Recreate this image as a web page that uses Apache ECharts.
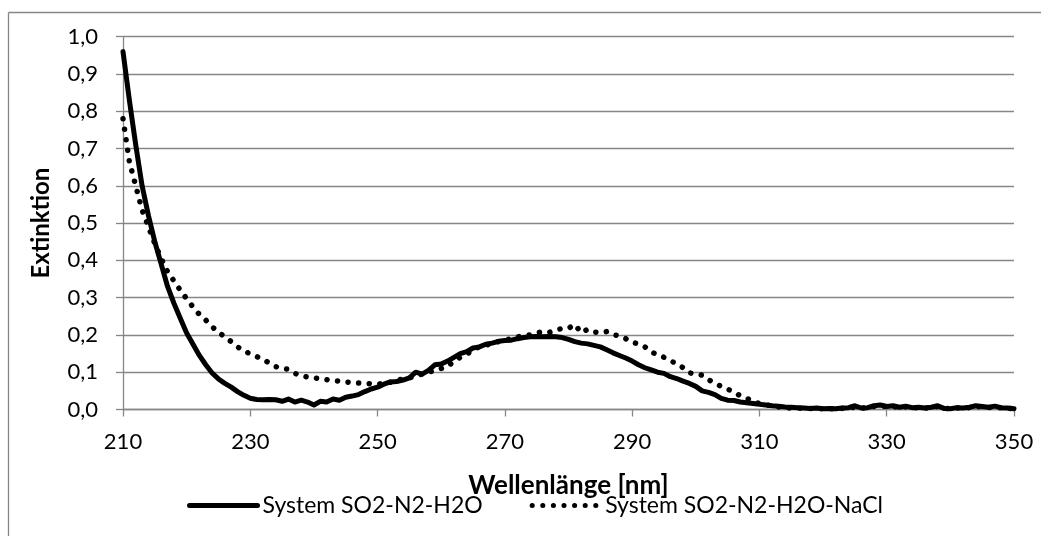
<!DOCTYPE html>
<html>
<head>
<meta charset="utf-8">
<script src="https://cdn.jsdelivr.net/npm/echarts@6/dist/echarts.min.js"></script>
<style>
html,body{margin:0;padding:0;background:#fff;}
#chart{width:1041px;height:536px;}
</style>
</head>
<body>
<div id="chart"></div>
<script>
// Wavelength categories 210..350 nm (1 nm step)
const wavelengths = [];
for (let w = 210; w <= 350; w++) wavelengths.push(String(w));

const xTickLabels = ['210','230','250','270','290','310','330','350'];
const yTickLabels = ['0,0','0,1','0,2','0,3','0,4','0,5','0,6','0,7','0,8','0,9','1,0'];

const seriesNames = ['System SO2-N2-H2O', 'System SO2-N2-H2O-NaCl'];

// System SO2-N2-H2O (solid)
const extSO2 = [
0.96,0.83,0.71,0.60,0.52,0.45,0.39,0.33,0.285,0.245,
0.205,0.175,0.145,0.12,0.098,0.082,0.07,0.06,0.048,0.038,
0.03,0.027,0.026,0.027,0.026,0.022,0.028,0.02,0.025,0.02,
0.012,0.022,0.02,0.028,0.025,0.033,0.036,0.04,0.048,0.055,
0.06,0.068,0.074,0.075,0.079,0.085,0.1,0.095,0.105,0.12,
0.122,0.13,0.14,0.15,0.155,0.165,0.168,0.175,0.178,0.183,
0.185,0.186,0.19,0.193,0.195,0.196,0.195,0.196,0.195,0.193,
0.188,0.182,0.178,0.176,0.172,0.168,0.16,0.152,0.145,0.138,
0.13,0.12,0.112,0.106,0.1,0.097,0.088,0.083,0.076,0.07,
0.062,0.05,0.046,0.04,0.03,0.025,0.024,0.02,0.018,0.016,
0.014,0.012,0.01,0.009,0.007,0.006,0.005,0.004,0.003,0.004,
0.002,0.003,0.002,0.004,0.005,0.01,0.004,0.005,0.01,0.012,
0.008,0.01,0.006,0.009,0.005,0.006,0.004,0.006,0.01,0.003,
0.002,0.005,0.004,0.006,0.01,0.008,0.006,0.009,0.005,0.004,
0.002
];

// System SO2-N2-H2O-NaCl (dotted)
const extSO2NaCl = [
0.78,0.665,0.60,0.535,0.49,0.445,0.405,0.37,0.345,0.32,
0.297,0.275,0.255,0.24,0.222,0.207,0.195,0.182,0.168,0.156,
0.15,0.142,0.134,0.125,0.115,0.11,0.108,0.097,0.09,0.087,
0.085,0.082,0.08,0.078,0.076,0.074,0.072,0.071,0.07,0.069,
0.068,0.07,0.073,0.078,0.082,0.085,0.09,0.095,0.1,0.105,
0.11,0.115,0.13,0.14,0.148,0.16,0.168,0.172,0.178,0.182,
0.186,0.19,0.195,0.198,0.2,0.205,0.209,0.207,0.212,0.218,
0.218,0.228,0.206,0.215,0.208,0.206,0.209,0.2,0.198,0.19,
0.18,0.176,0.168,0.155,0.146,0.14,0.13,0.124,0.112,0.098,
0.096,0.092,0.08,0.07,0.062,0.055,0.046,0.037,0.03,0.022,
0.016,0.012,0.01,0.007,0.005,0.004,0.004,0.003,0.003,0.003,
0.002,0.002,0.002,0.003,0.004,0.006,0.004,0.004,0.008,0.01,
0.007,0.008,0.005,0.007,0.004,0.005,0.004,0.005,0.008,0.003,
0.002,0.004,0.003,0.005,0.008,0.007,0.005,0.007,0.004,0.003,
0.002
];

const FONT = 'Lato, "Open Sans", sans-serif';
const GRAY = '#868686';

const chart = echarts.init(document.getElementById('chart'), null, {renderer: 'canvas'});
chart.setOption({
  animation: false,
  backgroundColor: '#fff',
  textStyle: {fontFamily: FONT},
  graphic: [
    {type: 'line', shape: {x1: 8.5, y1: 12.5, x2: 8.5, y2: 536}, style: {stroke: GRAY, lineWidth: 1.3}},
    {type: 'line', shape: {x1: 8.5, y1: 12.5, x2: 1041, y2: 12.5}, style: {stroke: GRAY, lineWidth: 1.3}}
  ],
  grid: {left: 123, right: 27, top: 36.7, bottom: 126.5, containLabel: false},
  legend: {
    left: 182, top: 489,
    itemWidth: 68, itemHeight: 14, itemGap: 47,
    itemStyle: {opacity: 0},
    lineStyle: {width: 5},
    textStyle: {fontFamily: FONT, fontSize: 23, color: '#000'},
    data: seriesNames
  },
  xAxis: {
    type: 'category',
    data: wavelengths,
    boundaryGap: false,
    name: 'Wellenlänge [nm]',
    nameLocation: 'middle',
    nameGap: 63,
    nameTextStyle: {fontFamily: FONT, fontSize: 26, fontWeight: 'bold', color: '#000'},
    axisLine: {lineStyle: {color: GRAY, width: 1.3}},
    axisTick: {show: true, interval: 19, length: 7, inside: false, lineStyle: {color: GRAY, width: 1.3}},
    axisLabel: {interval: 19, margin: 21, fontFamily: FONT, fontSize: 22, color: '#000',
      formatter: function (v) { return xTickLabels.indexOf(v) >= 0 ? v : ''; }},
    splitLine: {show: false}
  },
  yAxis: {
    type: 'value',
    min: 0, max: 1, interval: 0.1,
    name: 'Extinktion',
    nameLocation: 'middle',
    nameGap: 70,
    nameTextStyle: {fontFamily: FONT, fontSize: 24, fontWeight: 'bold', color: '#000'},
    axisLine: {show: true, lineStyle: {color: GRAY, width: 1.3}},
    axisTick: {show: true, length: 7, lineStyle: {color: GRAY, width: 1.3}},
    axisLabel: {margin: 25, fontFamily: FONT, fontSize: 22, color: '#000',
      formatter: function (v) { return yTickLabels[Math.round(v * 10)]; }},
    splitLine: {show: true, lineStyle: {color: GRAY, width: 1.3}}
  },
  series: [
    {
      name: seriesNames[0], type: 'line', data: extSO2,
      symbol: 'none', smooth: false,
      lineStyle: {color: '#000', width: 5, join: 'round', cap: 'round'},
      itemStyle: {color: '#000'}
    },
    {
      name: seriesNames[1], type: 'line', data: extSO2NaCl,
      symbol: 'none', smooth: false,
      lineStyle: {color: '#000', width: 5.5, type: [0.1, 10.5], cap: 'round', join: 'round'},
      itemStyle: {color: '#000'}
    }
  ]
});
</script>
</body>
</html>
